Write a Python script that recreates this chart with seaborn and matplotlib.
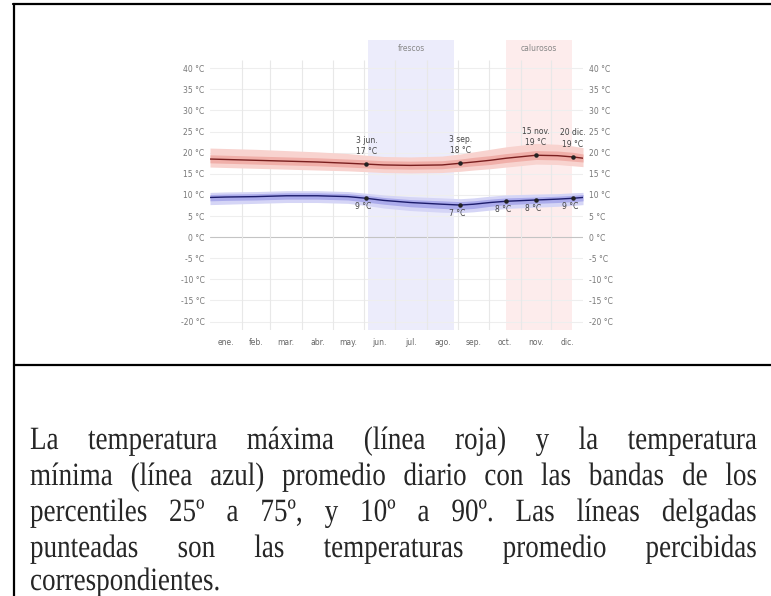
import matplotlib
matplotlib.use("Agg")
import numpy as np
import pandas as pd
import seaborn as sns
import matplotlib.pyplot as plt
from matplotlib.patheffects import AbstractPathEffect
from matplotlib.transforms import Affine2D

# ---------------- data ----------------
months = ["ene.", "feb.", "mar.", "abr.", "may.", "jun.", "jul.", "ago.", "sep.", "oct.", "nov.", "dic."]
month_days = [31, 28, 31, 30, 31, 30, 31, 31, 30, 31, 30, 31]

day = [0, 15, 45, 75, 105, 135, 153, 170, 196, 227, 245, 258, 274, 290, 319, 340, 355, 365]
high = [18.5, 18.4, 18.2, 18.0, 17.8, 17.5, 17.3, 17.1, 17.0, 17.1, 17.5, 17.8, 18.2, 18.7, 19.4, 19.3, 19.0, 18.7]
high_p25 = [17.6, 17.5, 17.3, 17.1, 16.9, 16.6, 16.4, 16.2, 16.1, 16.2, 16.6, 16.9, 17.2, 17.7, 18.4, 18.3, 18.0, 17.8]
high_p75 = [19.5, 19.4, 19.2, 19.0, 18.8, 18.5, 18.3, 18.1, 18.0, 18.1, 18.5, 18.9, 19.3, 19.8, 20.5, 20.4, 20.1, 19.7]
high_p10 = [16.6, 16.5, 16.3, 16.1, 15.9, 15.7, 15.5, 15.3, 15.2, 15.3, 15.6, 15.9, 16.2, 16.6, 17.3, 17.2, 16.9, 16.7]
high_p90 = [21.1, 21.0, 20.8, 20.5, 20.2, 19.8, 19.4, 19.1, 19.0, 19.2, 19.7, 20.2, 20.8, 21.4, 22.2, 22.0, 21.6, 21.2]

low = [9.4, 9.5, 9.6, 9.8, 9.8, 9.6, 9.2, 8.7, 8.2, 7.8, 7.6, 7.8, 8.2, 8.5, 8.8, 9.0, 9.2, 9.4]
low_p25 = [8.6, 8.7, 8.8, 9.0, 9.0, 8.8, 8.3, 7.8, 7.2, 6.8, 6.6, 6.8, 7.3, 7.7, 8.0, 8.2, 8.4, 8.6]
low_p75 = [10.1, 10.2, 10.3, 10.5, 10.5, 10.3, 9.9, 9.4, 8.9, 8.6, 8.4, 8.6, 9.0, 9.3, 9.5, 9.7, 9.9, 10.1]
low_p10 = [7.7, 7.8, 8.0, 8.2, 8.2, 8.0, 7.5, 6.9, 6.3, 5.9, 5.8, 6.0, 6.4, 6.8, 7.1, 7.3, 7.5, 7.7]
low_p90 = [10.6, 10.7, 10.8, 11.0, 11.0, 10.8, 10.4, 10.0, 9.6, 9.3, 9.1, 9.3, 9.7, 10.0, 10.2, 10.3, 10.5, 10.6]

seasons = ["frescos", "calurosos"]
season_start = [155, 290]
season_end = [239, 354]
season_colors = ["#ececfb", "#fdecec"]

hi_mark_day = [153, 245, 319, 355]
hi_mark_val = [17.3, 17.5, 19.4, 19.0]
hi_mark_lbl = ["3 jun.\n17 °C", "3 sep.\n18 °C", "15 nov.\n19 °C", "20 dic.\n19 °C"]
lo_mark_day = [153, 245, 290, 319, 355]
lo_mark_val = [9.2, 7.6, 8.5, 8.8, 9.2]
lo_mark_lbl = ["9 °C", "7 °C", "8 °C", "8 °C", "9 °C"]

yticks = [40, 35, 30, 25, 20, 15, 10, 5, 0, -5, -10, -15, -20]

caption_lines = [
    "La temperatura máxima (línea roja) y la temperatura",
    "mínima (línea azul) promedio diario con las bandas de los",
    "percentiles 25º a 75º, y 10º a 90º. Las líneas delgadas",
    "punteadas son las temperaturas promedio percibidas",
    "correspondientes.",
]

# ---------------- figure ----------------
W, H = 771, 596
sns.set_style("white")
plt.rcParams["font.family"] = ["DejaVu Sans"]
fig = plt.figure(figsize=(W / 100, H / 100), dpi=100)

def fx(px):
    return px / W

def fy(py):
    return 1 - py / H

ax = fig.add_axes([fx(210), fy(330), fx(583) - fx(210), fy(40) - fy(330)])
ax.set_xlim(0, 365)
ax.set_ylim(-22, 46.7)
for s in ax.spines.values():
    s.set_visible(False)

for name, a, b, c in zip(seasons, season_start, season_end, season_colors):
    ax.axvspan(a, b, color=c, lw=0, zorder=0)
    ax.text((a + b) / 2, 44.8, name, ha="center", va="center", fontsize=5.5, color="#888888")

for t in yticks:
    ax.axhline(t, color="#c4c4c4" if t == 0 else "#eeeeee", lw=0.8, zorder=1)
bounds = np.cumsum(month_days)[:-1]
ax.vlines(bounds, -22, 42, color="#e8e8e8", lw=0.8, zorder=1)

df = pd.DataFrame({"day": day, "high": high, "low": low})

ax.fill_between(day, high_p10, high_p90, color="#f8d3cf", lw=0, zorder=2)
ax.fill_between(day, high_p25, high_p75, color="#f0afa9", lw=0, zorder=2)
ax.fill_between(day, low_p10, low_p90, color="#d5d5f6", lw=0, zorder=2)
ax.fill_between(day, low_p25, low_p75, color="#ababeb", lw=0, zorder=2)

sns.lineplot(data=df, x="day", y="high", ax=ax, color="#7a1f1f", lw=1.0, zorder=3)
sns.lineplot(data=df, x="day", y="low", ax=ax, color="#1c1c6b", lw=1.0, zorder=3)

ax.scatter(hi_mark_day, hi_mark_val, s=5, color="#222222", zorder=4)
ax.scatter(lo_mark_day, lo_mark_val, s=5, color="#222222", zorder=4)
for d, v, l in zip(hi_mark_day, hi_mark_val, hi_mark_lbl):
    ax.annotate(l, (d, v), xytext=(0, 6), textcoords="offset points", ha="center", va="bottom",
                fontsize=5.5, color="#444444", linespacing=1.3, zorder=5)
for d, v, l in zip(lo_mark_day, lo_mark_val, lo_mark_lbl):
    ax.annotate(l, (d, v), xytext=(-2, -3), textcoords="offset points", ha="center", va="top",
                fontsize=5.5, color="#444444", zorder=5)

ax.set_xlabel("")
ax.set_ylabel("")
ax.set_yticks(yticks)
ax.set_yticklabels([f"{t} °C" for t in yticks])
ax.tick_params(axis="y", length=0, labelsize=5.5, labelcolor="#777777", pad=4,
               labelleft=True, labelright=True)
ax.set_xticks(np.concatenate([[0], np.cumsum(month_days)]))
ax.set_xticklabels([])
centers = np.cumsum(month_days) - np.array(month_days) / 2
ax.set_xticks(centers, minor=True)
ax.set_xticklabels(months, minor=True)
ax.tick_params(axis="x", which="both", length=0, labelsize=5.5, labelcolor="#666666", pad=6)

# ---------------- frame ----------------
lw = 1.6
fig.add_artist(plt.Line2D([fx(14), fx(14)], [fy(4), fy(596)], color="black", lw=lw, transform=fig.transFigure))
fig.add_artist(plt.Line2D([fx(13.2), 1], [fy(4), fy(4)], color="black", lw=lw, transform=fig.transFigure))
fig.add_artist(plt.Line2D([fx(14), 1], [fy(365), fy(365)], color="black", lw=lw, transform=fig.transFigure))


# ---------------- caption (justified, glyphs slightly tall) ----------------
class VStretch(AbstractPathEffect):
    """Draw text glyphs stretched vertically about a baseline (display y)."""
    def __init__(self, sy, y0):
        super().__init__()
        self.sy = sy
        self.y0 = y0

    def draw_path(self, renderer, gc, tpath, affine, rgbFace=None):
        t = affine + Affine2D().translate(0, -self.y0).scale(1, self.sy).translate(0, self.y0)
        renderer.draw_path(gc, tpath, t, rgbFace)


fs = 19.5
sy = 1.2
fam = ["Liberation Serif", "DejaVu Serif"]
x0, x1 = 30, 757
baselines = [449, 485, 521, 557, 590]
renderer = fig.canvas.get_renderer()
for i, (line, by) in enumerate(zip(caption_lines, baselines)):
    y_disp = (H - by)
    pe = [VStretch(sy, y_disp)]
    words = line.split(" ")
    if i == len(caption_lines) - 1:
        fig.text(fx(x0), fy(by), line, fontsize=fs, family=fam, ha="left", va="baseline",
                 path_effects=pe)
        continue
    arts = [fig.text(0, fy(by), w, fontsize=fs, family=fam, ha="left", va="baseline",
                     path_effects=pe) for w in words]
    widths = [a.get_window_extent(renderer).width for a in arts]
    gap = (x1 - x0 - sum(widths)) / (len(words) - 1)
    x = x0
    for a, w in zip(arts, widths):
        a.set_x(fx(x))
        x += w + gap

fig.savefig("out.png", dpi=100)
